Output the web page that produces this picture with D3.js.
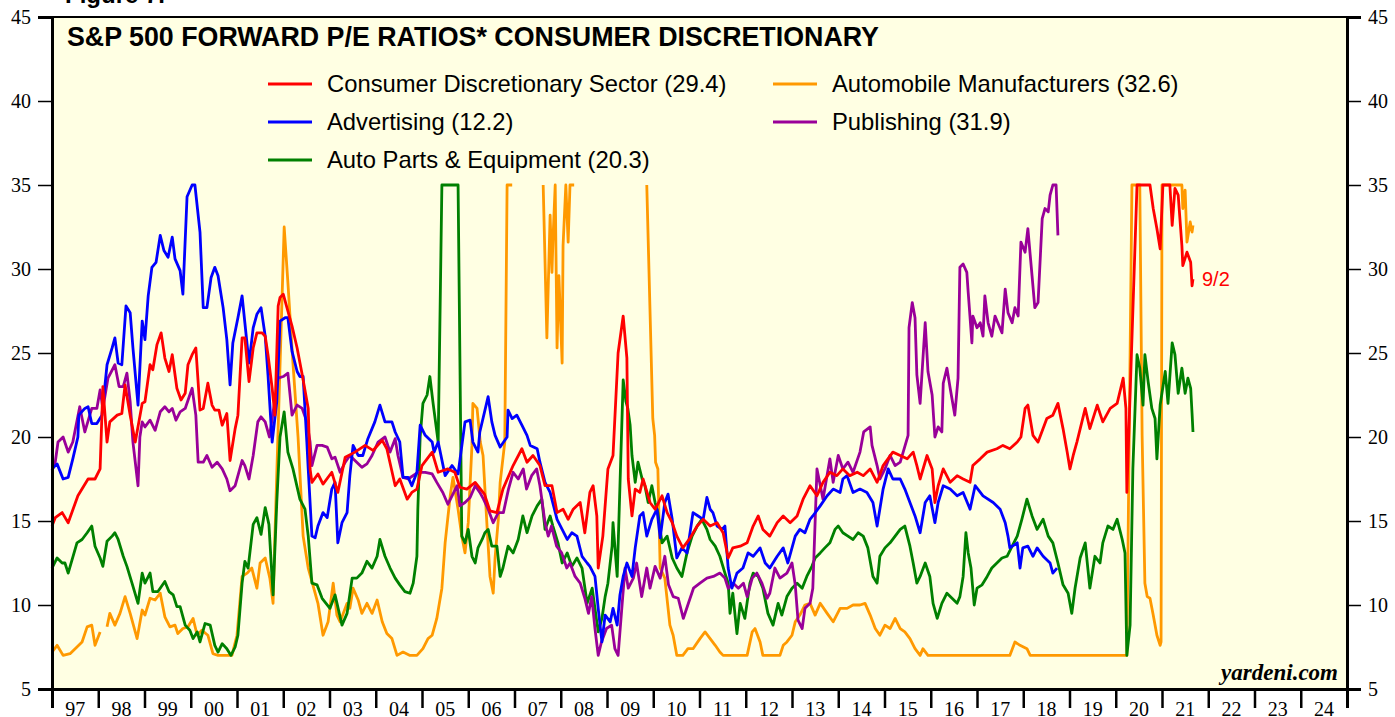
<!DOCTYPE html>
<html>
<head>
<meta charset="utf-8">
<script src="https://cdn.jsdelivr.net/npm/d3@7"></script>
<style>
  body { margin: 0; background: #fff; }
  svg { display: block; }
</style>
</head>
<body>
<div id="chart"></div>
<script>
// values: [fractional year, forward P/E]; null = gap
const consumerDisc = [
  [1997.00,14.7],[1997.07,15.2],[1997.22,15.5],[1997.35,14.9],[1997.56,16.5],[1997.78,17.5],[1997.93,17.5],
  [1998.04,18.1],[1998.10,23.0],[1998.19,19.7],[1998.25,20.9],[1998.41,21.3],[1998.51,21.4],[1998.58,23.1],
  [1998.69,21.3],[1998.80,19.7],[1998.95,22.0],[1999.01,22.1],[1999.12,24.3],[1999.18,24.0],[1999.27,25.5],
  [1999.36,26.2],[1999.44,24.7],[1999.53,23.9],[1999.60,24.9],[1999.70,22.9],[1999.79,22.2],[1999.88,22.6],
  [1999.94,24.3],[2000.03,24.9],[2000.11,25.3],[2000.20,21.6],[2000.27,21.7],[2000.37,23.2],[2000.46,21.9],
  [2000.52,21.6],[2000.61,21.6],[2000.68,20.7],[2000.78,21.4],[2000.85,18.6],[2000.96,20.5],[2001.02,21.3],
  [2001.11,25.9],[2001.17,25.9],[2001.26,23.3],[2001.35,25.3],[2001.43,26.2],[2001.54,26.2],[2001.61,26.0],
  [2001.67,24.9],[2001.76,22.9],[2001.82,21.3],[2001.89,27.8],[2001.93,28.3],[2002.00,28.5],[2002.08,27.7],
  [2002.19,26.6],[2002.30,25.3],[2002.41,23.7],[2002.54,21.7],[2002.58,18.1],[2002.62,17.3],[2002.75,17.8],
  [2002.86,17.2],[2003.05,17.9],[2003.18,16.7],[2003.34,18.8],[2003.55,19.1],[2003.77,19.5],[2003.94,19.2],
  [2004.14,19.8],[2004.24,19.3],[2004.42,17.1],[2004.52,17.5],[2004.68,16.3],[2004.78,16.7],[2004.89,16.9],
  [2005.00,18.3],[2005.22,19.1],[2005.35,17.9],[2005.56,18.1],[2005.71,17.9],[2005.82,17.0],[2005.97,16.9],
  [2006.15,17.3],[2006.35,16.6],[2006.47,15.6],[2006.62,15.5],[2006.75,16.9],[2006.97,18.3],[2007.16,19.3],
  [2007.27,18.5],[2007.40,18.9],[2007.55,18.3],[2007.66,17.1],[2007.81,17.1],[2007.92,15.5],[2008.05,15.7],
  [2008.16,15.1],[2008.27,15.7],[2008.42,16.1],[2008.52,14.3],[2008.63,16.7],[2008.70,17.1],[2008.78,15.3],
  [2008.81,12.2],[2008.91,14.1],[2009.02,18.1],[2009.13,18.9],[2009.24,25.0],[2009.35,27.2],[2009.43,24.7],
  [2009.46,17.5],[2009.54,15.3],[2009.61,16.9],[2009.71,16.7],[2009.78,17.5],[2009.93,16.1],[2010.04,15.7],
  [2010.19,16.5],[2010.30,15.5],[2010.41,14.9],[2010.51,14.1],[2010.64,13.4],[2010.80,14.0],[2010.95,14.7],
  [2011.08,15.1],[2011.23,14.7],[2011.38,14.9],[2011.51,14.3],[2011.62,12.8],[2011.72,13.4],[2011.88,13.5],
  [2012.03,13.7],[2012.16,14.7],[2012.27,15.3],[2012.37,14.5],[2012.52,14.1],[2012.68,14.9],[2012.81,15.3],
  [2012.96,14.9],[2013.11,15.3],[2013.24,16.3],[2013.39,17.1],[2013.54,16.5],[2013.67,17.3],[2013.82,17.9],
  [2013.97,17.7],[2014.10,18.1],[2014.25,17.7],[2014.41,17.9],[2014.54,17.7],[2014.69,18.1],[2014.84,17.3],
  [2014.97,18.3],[2015.18,19.1],[2015.34,18.9],[2015.49,18.7],[2015.62,19.1],[2015.70,18.3],[2015.77,17.5],
  [2015.92,18.9],[2016.03,18.1],[2016.09,16.1],[2016.16,17.1],[2016.27,18.1],[2016.42,17.3],[2016.57,17.7],
  [2016.70,17.5],[2016.85,17.3],[2016.91,18.3],[2017.07,18.7],[2017.22,19.1],[2017.43,19.3],[2017.56,19.5],
  [2017.71,19.3],[2017.87,19.7],[2017.95,20.0],[2018.04,21.7],[2018.10,21.9],[2018.21,20.1],[2018.32,19.7],
  [2018.51,21.1],[2018.64,21.3],[2018.75,22.0],[2018.86,20.5],[2018.95,19.1],[2019.01,18.1],[2019.08,18.9],
  [2019.16,19.7],[2019.34,21.7],[2019.44,20.5],[2019.60,21.9],[2019.72,20.9],[2019.88,21.7],[2020.03,22.0],
  [2020.16,23.5],[2020.22,21.7],[2020.24,16.7],[2020.46,35.0],[2020.74,35.0],[2020.81,33.6],[2020.89,32.4],
  [2020.96,31.2],[2021.02,35.0],[2021.17,35.0],[2021.22,32.6],[2021.28,34.8],[2021.35,34.4],[2021.43,31.4],
  [2021.45,30.2],[2021.54,31.0],[2021.62,30.4],[2021.65,29.0],[2021.67,29.4]
];

const advertising = [
  [1997.00,18.1],[1997.11,18.4],[1997.24,17.5],[1997.35,17.6],[1997.45,18.7],[1997.56,20.0],[1997.58,21.3],
  [1997.71,21.7],[1997.78,21.8],[1997.86,20.8],[1997.97,20.8],[1998.08,21.3],[1998.19,24.3],[1998.30,25.3],
  [1998.36,25.9],[1998.43,24.4],[1998.51,24.3],[1998.60,27.8],[1998.69,27.4],[1998.75,25.3],[1998.86,21.9],
  [1998.95,26.9],[1999.01,25.8],[1999.08,28.4],[1999.16,30.1],[1999.25,30.4],[1999.34,32.0],[1999.42,31.1],
  [1999.51,30.7],[1999.60,31.9],[1999.66,30.6],[1999.77,29.9],[1999.83,28.5],[1999.92,34.3],[2000.03,35.0],
  [2000.09,35.0],[2000.20,32.2],[2000.27,27.7],[2000.35,27.7],[2000.44,29.5],[2000.52,30.1],[2000.59,29.6],
  [2000.70,27.7],[2000.78,25.8],[2000.85,23.1],[2000.91,25.6],[2001.02,27.1],[2001.11,28.4],[2001.17,26.8],
  [2001.26,24.4],[2001.35,26.5],[2001.43,27.3],[2001.52,27.7],[2001.61,26.0],[2001.67,23.7],[2001.76,19.7],
  [2001.86,22.1],[2001.93,26.9],[2002.04,27.1],[2002.10,27.1],[2002.19,25.1],[2002.30,23.9],[2002.36,23.6],
  [2002.43,23.6],[2002.51,19.7],[2002.54,18.1],[2002.62,14.1],[2002.69,14.0],[2002.75,14.7],[2002.86,15.5],
  [2002.95,15.2],[2003.05,16.9],[2003.12,17.3],[2003.18,13.7],[2003.27,14.9],[2003.38,15.5],[2003.44,17.7],
  [2003.51,19.5],[2003.62,18.9],[2003.72,18.9],[2003.83,19.9],[2003.98,20.9],[2004.09,21.9],[2004.20,20.9],
  [2004.35,20.9],[2004.42,20.3],[2004.52,19.7],[2004.59,17.6],[2004.70,17.6],[2004.78,17.1],[2004.89,17.9],
  [2004.96,20.7],[2005.07,20.1],[2005.22,19.7],[2005.26,19.1],[2005.35,19.7],[2005.50,17.7],[2005.65,18.3],
  [2005.78,17.8],[2005.93,20.9],[2006.04,21.0],[2006.10,19.7],[2006.21,19.1],[2006.25,20.3],[2006.43,22.4],
  [2006.51,20.9],[2006.58,20.1],[2006.69,19.4],[2006.84,20.0],[2006.86,21.6],[2006.95,21.1],[2007.05,21.3],
  [2007.16,20.7],[2007.27,20.1],[2007.34,19.5],[2007.49,19.3],[2007.55,18.5],[2007.66,17.3],[2007.77,16.7],
  [2007.92,15.1],[2008.03,14.5],[2008.14,13.9],[2008.24,14.3],[2008.35,14.1],[2008.46,12.9],[2008.57,12.5],
  [2008.63,12.3],[2008.74,11.7],[2008.81,9.8],[2008.89,7.8],[2008.96,9.4],[2009.07,9.0],[2009.13,9.8],
  [2009.22,8.8],[2009.28,10.6],[2009.35,11.7],[2009.43,12.5],[2009.54,11.7],[2009.61,13.4],[2009.71,15.3],
  [2009.78,15.5],[2009.86,14.1],[2009.97,15.1],[2010.08,15.7],[2010.15,14.0],[2010.25,16.1],[2010.32,16.6],
  [2010.41,15.1],[2010.51,12.8],[2010.62,13.4],[2010.73,13.1],[2010.86,15.5],[2010.97,15.3],[2011.08,15.1],
  [2011.16,16.4],[2011.23,15.7],[2011.29,15.5],[2011.38,14.7],[2011.49,14.5],[2011.55,14.7],[2011.62,12.2],
  [2011.70,11.0],[2011.81,11.9],[2011.94,12.2],[2012.05,13.1],[2012.16,12.9],[2012.31,13.4],[2012.42,12.5],
  [2012.52,12.2],[2012.68,12.9],[2012.81,13.4],[2012.91,12.5],[2013.07,14.1],[2013.17,14.5],[2013.28,14.3],
  [2013.39,15.1],[2013.45,15.3],[2013.61,15.9],[2013.76,16.5],[2013.89,16.9],[2014.04,16.7],[2014.10,17.5],
  [2014.19,17.7],[2014.32,16.7],[2014.47,16.9],[2014.62,16.7],[2014.75,16.1],[2014.84,14.7],[2014.97,16.9],
  [2015.08,18.1],[2015.18,17.5],[2015.34,17.5],[2015.44,16.9],[2015.55,16.1],[2015.66,15.3],[2015.77,14.3],
  [2015.88,16.1],[2015.98,16.5],[2016.09,14.9],[2016.16,16.1],[2016.27,17.1],[2016.42,16.9],[2016.57,16.5],
  [2016.70,16.7],[2016.85,15.7],[2016.96,17.1],[2017.13,16.5],[2017.35,16.1],[2017.50,15.7],[2017.61,14.9],
  [2017.67,14.1],[2017.71,13.4],[2017.87,13.7],[2017.93,12.2],[2017.99,13.4],[2018.10,13.5],[2018.21,12.9],
  [2018.30,13.4],[2018.43,12.9],[2018.58,12.5],[2018.64,11.9],[2018.73,12.2]
];

const autoParts = [
  [1997.00,12.2],[1997.11,12.8],[1997.22,12.5],[1997.28,12.5],[1997.35,11.9],[1997.54,13.7],[1997.65,13.9],
  [1997.76,14.3],[1997.86,14.7],[1997.93,13.5],[1998.04,12.8],[1998.10,12.3],[1998.19,13.8],[1998.30,14.1],
  [1998.36,14.3],[1998.43,13.9],[1998.54,12.9],[1998.62,12.3],[1998.73,11.3],[1998.86,10.1],[1998.95,11.9],
  [1999.01,11.3],[1999.12,11.9],[1999.18,10.8],[1999.29,10.8],[1999.44,11.4],[1999.53,10.8],[1999.62,10.6],
  [1999.70,9.9],[1999.77,9.9],[1999.88,8.8],[1999.98,8.5],[2000.05,8.0],[2000.14,8.4],[2000.20,7.8],
  [2000.31,8.9],[2000.42,8.8],[2000.52,7.6],[2000.59,7.2],[2000.68,7.7],[2000.78,7.4],[2000.87,7.0],
  [2000.96,7.5],[2001.02,8.2],[2001.11,11.3],[2001.17,12.6],[2001.24,12.2],[2001.35,14.8],[2001.43,15.2],
  [2001.52,14.2],[2001.61,15.8],[2001.69,14.8],[2001.78,10.6],[2001.86,16.1],[2001.93,20.0],[2002.02,21.5],
  [2002.10,19.1],[2002.21,18.1],[2002.36,16.3],[2002.47,15.7],[2002.54,14.1],[2002.62,11.3],[2002.73,11.2],
  [2002.84,10.4],[2003.01,9.8],[2003.12,10.6],[2003.27,8.8],[2003.38,9.5],[2003.49,11.6],[2003.59,11.6],
  [2003.70,11.9],[2003.81,12.6],[2003.92,12.2],[2004.03,12.9],[2004.09,13.9],[2004.20,12.9],[2004.31,12.2],
  [2004.42,11.6],[2004.52,11.2],[2004.63,10.8],[2004.74,10.7],[2004.81,11.3],[2004.89,12.9],[2004.91,15.7],
  [2004.96,20.0],[2005.02,22.0],[2005.11,22.5],[2005.17,23.6],[2005.24,22.0],[2005.35,19.7],[2005.43,35.0],
  [2005.78,35.0],[2005.86,14.1],[2005.93,13.7],[2006.00,14.5],[2006.08,12.9],[2006.15,12.5],[2006.21,13.4],
  [2006.30,13.9],[2006.36,14.3],[2006.43,14.5],[2006.51,13.5],[2006.62,13.5],[2006.69,11.7],[2006.75,12.2],
  [2006.86,13.5],[2006.97,13.1],[2007.08,13.9],[2007.18,15.3],[2007.27,14.3],[2007.38,15.3],[2007.49,15.9],
  [2007.59,16.3],[2007.66,14.5],[2007.77,15.3],[2007.83,14.7],[2007.94,13.7],[2008.03,12.5],[2008.14,13.1],
  [2008.24,12.3],[2008.35,12.8],[2008.46,12.2],[2008.57,10.1],[2008.68,11.0],[2008.74,9.8],[2008.81,8.4],
  [2008.89,9.2],[2008.96,10.5],[2009.02,11.3],[2009.11,13.5],[2009.13,14.9],[2009.22,11.7],[2009.28,17.1],
  [2009.35,23.4],[2009.41,22.1],[2009.45,21.7],[2009.50,20.7],[2009.54,18.9],[2009.61,17.3],[2009.67,18.5],
  [2009.76,17.5],[2009.82,17.1],[2009.89,16.1],[2009.97,17.1],[2010.04,16.1],[2010.10,15.5],[2010.19,13.7],
  [2010.30,14.1],[2010.41,12.8],[2010.51,12.2],[2010.62,11.7],[2010.73,13.1],[2010.84,14.1],[2010.95,14.7],
  [2011.05,15.1],[2011.16,14.5],[2011.23,13.9],[2011.34,13.5],[2011.44,12.9],[2011.55,11.9],[2011.62,11.3],
  [2011.66,9.5],[2011.72,10.7],[2011.81,8.3],[2011.88,10.1],[2011.98,9.2],[2012.09,11.3],[2012.16,11.9],
  [2012.27,11.7],[2012.37,11.0],[2012.48,9.5],[2012.59,8.8],[2012.70,10.1],[2012.78,9.4],[2012.89,10.5],
  [2013.00,11.0],[2013.11,11.3],[2013.22,11.0],[2013.32,11.7],[2013.43,12.3],[2013.50,12.8],[2013.61,13.1],
  [2013.71,13.4],[2013.82,13.7],[2013.93,14.5],[2014.00,14.7],[2014.10,14.3],[2014.21,14.1],[2014.32,13.9],
  [2014.43,14.3],[2014.54,14.1],[2014.64,13.4],[2014.75,11.7],[2014.84,11.3],[2014.90,12.9],[2015.01,13.4],
  [2015.12,13.7],[2015.23,14.1],[2015.34,14.5],[2015.44,14.7],[2015.55,13.5],[2015.62,12.5],[2015.70,11.3],
  [2015.77,11.7],[2015.88,12.5],[2015.98,11.7],[2016.05,10.1],[2016.14,9.2],[2016.24,10.1],[2016.35,10.7],
  [2016.46,10.4],[2016.57,10.1],[2016.63,10.5],[2016.70,11.7],[2016.76,14.3],[2016.81,13.1],[2016.87,12.2],
  [2016.94,10.0],[2017.00,11.0],[2017.11,11.2],[2017.22,11.7],[2017.32,12.2],[2017.43,12.5],[2017.54,12.8],
  [2017.65,12.9],[2017.76,13.5],[2017.87,14.1],[2017.97,15.1],[2018.08,16.3],[2018.19,15.3],[2018.30,14.5],
  [2018.43,15.1],[2018.54,14.1],[2018.64,13.7],[2018.75,12.5],[2018.86,11.2],[2018.97,10.7],[2019.05,9.5],
  [2019.12,11.0],[2019.23,12.8],[2019.34,13.7],[2019.44,11.0],[2019.55,12.9],[2019.66,12.5],[2019.72,13.7],
  [2019.83,14.7],[2019.94,14.5],[2020.03,15.1],[2020.14,13.9],[2020.20,13.1],[2020.24,7.0],[2020.31,8.8],
  [2020.37,18.1],[2020.46,24.9],[2020.52,24.1],[2020.59,21.9],[2020.63,24.9],[2020.70,23.3],[2020.78,21.7],
  [2020.85,21.1],[2020.89,18.7],[2020.96,21.9],[2021.07,23.9],[2021.13,22.0],[2021.22,25.6],[2021.28,24.9],
  [2021.35,22.6],[2021.43,24.1],[2021.50,22.6],[2021.56,23.5],[2021.62,22.9],[2021.65,21.4],[2021.67,20.3]
];

const autoMakers = [
  [1997.00,7.2],[1997.11,7.6],[1997.24,7.0],[1997.39,7.1],[1997.54,7.5],[1997.65,7.8],[1997.76,8.7],
  [1997.86,8.8],[1997.93,7.6],[1998.04,8.4],[1998.10,null],[1998.19,8.7],[1998.25,9.5],[1998.36,8.8],
  [1998.47,9.5],[1998.58,10.5],[1998.69,9.5],[1998.84,8.0],[1998.95,9.7],[1999.01,9.4],[1999.12,10.4],
  [1999.23,10.3],[1999.34,10.7],[1999.44,9.3],[1999.55,8.7],[1999.66,8.8],[1999.72,8.3],[1999.83,8.6],
  [1999.94,8.7],[2000.05,9.2],[2000.14,8.2],[2000.24,8.5],[2000.37,8.2],[2000.48,7.1],[2000.59,7.0],
  [2000.89,7.0],[2001.00,8.2],[2001.11,11.7],[2001.22,11.9],[2001.32,12.2],[2001.43,11.0],[2001.50,12.5],
  [2001.61,12.8],[2001.71,11.6],[2001.78,10.1],[2001.82,14.1],[2002.02,32.5],[2002.10,29.2],[2002.21,24.4],
  [2002.32,20.0],[2002.43,14.1],[2002.54,12.2],[2002.64,11.2],[2002.75,10.1],[2002.86,8.2],[2002.97,9.0],
  [2003.08,11.3],[2003.16,9.4],[2003.23,9.0],[2003.38,10.1],[2003.44,9.8],[2003.51,11.0],[2003.62,10.3],
  [2003.70,9.5],[2003.81,10.1],[2003.92,9.5],[2004.03,10.3],[2004.14,9.0],[2004.24,8.3],[2004.35,8.0],
  [2004.46,7.0],[2004.59,7.2],[2004.74,7.0],[2004.89,7.0],[2005.02,7.4],[2005.13,8.0],[2005.22,8.2],
  [2005.32,9.2],[2005.43,11.0],[2005.50,13.7],[2005.61,16.5],[2005.67,17.6],[2005.78,15.7],[2005.86,14.1],
  [2005.93,13.1],[2006.00,14.9],[2006.08,19.5],[2006.10,22.0],[2006.19,21.7],[2006.26,19.7],[2006.32,18.9],
  [2006.41,14.5],[2006.47,11.7],[2006.54,10.7],[2006.58,12.8],[2006.65,15.1],[2006.69,17.3],[2006.79,19.7],
  [2006.84,35.0],[2006.95,35.0],[2007.30,null],[2007.62,35.0],[2007.70,25.9],[2007.77,33.2],[2007.81,29.8],
  [2007.83,31.6],[2007.88,35.0],[2007.92,25.3],[2007.96,29.6],[2008.03,24.4],[2008.05,31.4],[2008.11,35.0],
  [2008.16,31.6],[2008.20,35.0],[2008.29,35.0],[2009.00,null],[2009.86,35.0],[2009.99,21.1],[2010.03,20.1],
  [2010.05,18.5],[2010.10,18.1],[2010.15,12.2],[2010.25,11.6],[2010.36,8.8],[2010.43,8.2],[2010.51,7.0],
  [2010.64,7.0],[2010.75,7.4],[2010.86,7.4],[2011.01,8.0],[2011.12,8.4],[2011.23,8.0],[2011.34,7.6],
  [2011.44,7.2],[2011.51,7.0],[2012.03,7.0],[2012.14,8.4],[2012.20,8.6],[2012.31,7.8],[2012.37,7.0],
  [2012.74,7.0],[2012.81,7.6],[2012.89,7.8],[2013.00,8.2],[2013.07,9.0],[2013.17,9.4],[2013.28,10.0],
  [2013.39,10.1],[2013.50,9.4],[2013.61,10.1],[2013.76,9.5],[2013.89,9.0],[2014.04,9.8],[2014.19,9.8],
  [2014.32,10.0],[2014.47,10.0],[2014.58,10.1],[2014.69,9.4],[2014.80,8.6],[2014.90,8.2],[2015.01,8.8],
  [2015.12,8.6],[2015.23,9.2],[2015.34,8.6],[2015.44,8.4],[2015.55,8.0],[2015.66,7.4],[2015.77,7.0],
  [2015.83,7.4],[2015.94,7.0],[2017.71,7.0],[2017.82,7.8],[2017.93,7.6],[2018.08,7.4],[2018.15,7.0],
  [2020.24,7.0],[2020.35,35.0],[2020.52,35.0],[2020.57,20.1],[2020.63,11.3],[2020.68,10.5],[2020.74,10.4],
  [2020.81,9.4],[2020.89,8.2],[2020.96,7.6],[2020.98,7.8],[2021.00,35.0],[2021.43,35.0],[2021.45,33.6],
  [2021.50,34.7],[2021.54,31.6],[2021.61,32.8],[2021.65,32.2],[2021.67,32.6]
];

const publishing = [
  [1997.00,18.0],[1997.07,18.5],[1997.13,19.7],[1997.24,20.0],[1997.35,19.1],[1997.45,19.7],[1997.60,21.8],
  [1997.71,20.3],[1997.86,21.7],[1997.97,21.7],[1998.04,22.8],[1998.10,21.7],[1998.21,23.5],[1998.36,24.3],
  [1998.45,23.0],[1998.54,23.0],[1998.62,23.8],[1998.69,22.1],[1998.75,19.7],[1998.86,17.1],[1998.90,20.0],
  [1998.95,20.9],[1999.01,20.6],[1999.12,21.0],[1999.23,20.4],[1999.34,21.5],[1999.44,21.8],[1999.53,21.5],
  [1999.60,21.7],[1999.68,21.0],[1999.77,21.5],[1999.88,21.7],[2000.03,22.9],[2000.11,21.3],[2000.16,18.5],
  [2000.27,18.5],[2000.35,18.9],[2000.46,18.2],[2000.57,18.5],[2000.68,18.1],[2000.78,17.5],[2000.85,16.8],
  [2000.96,17.1],[2001.11,18.6],[2001.17,18.3],[2001.26,17.5],[2001.35,18.9],[2001.45,20.9],[2001.52,21.2],
  [2001.61,20.9],[2001.70,20.0],[2001.89,23.5],[2002.00,23.6],[2002.10,23.8],[2002.19,21.3],[2002.30,21.9],
  [2002.41,21.7],[2002.51,20.9],[2002.58,19.7],[2002.62,18.3],[2002.73,19.5],[2002.84,19.5],[2002.95,19.4],
  [2003.05,18.7],[2003.12,18.8],[2003.23,17.9],[2003.34,18.5],[2003.44,18.9],[2003.55,18.6],[2003.70,18.2],
  [2003.81,18.4],[2003.92,18.9],[2004.05,19.7],[2004.20,20.0],[2004.31,19.1],[2004.42,19.9],[2004.48,18.9],
  [2004.59,17.6],[2004.70,17.5],[2004.91,17.9],[2005.07,17.9],[2005.22,17.8],[2005.32,17.3],[2005.45,16.7],
  [2005.56,16.0],[2005.65,16.5],[2005.76,17.1],[2005.82,15.9],[2005.93,16.1],[2006.04,16.4],[2006.15,17.1],
  [2006.25,16.7],[2006.33,16.3],[2006.43,15.7],[2006.54,14.9],[2006.65,15.5],[2006.76,15.5],[2006.87,16.9],
  [2006.97,17.9],[2007.08,17.5],[2007.19,18.1],[2007.26,16.9],[2007.37,17.7],[2007.48,18.1],[2007.55,17.1],
  [2007.66,14.9],[2007.73,14.1],[2007.80,14.7],[2007.91,13.5],[2008.02,13.1],[2008.13,12.2],[2008.20,12.5],
  [2008.31,11.7],[2008.42,11.3],[2008.52,10.4],[2008.60,9.5],[2008.67,10.5],[2008.74,8.6],[2008.81,7.0],
  [2008.88,7.8],[2008.99,8.6],[2009.10,8.8],[2009.17,7.4],[2009.24,7.0],[2009.32,9.8],[2009.39,12.2],
  [2009.46,11.0],[2009.57,11.6],[2009.64,12.5],[2009.75,10.5],[2009.86,12.2],[2009.93,11.0],[2010.04,12.3],
  [2010.15,11.6],[2010.25,12.9],[2010.33,11.2],[2010.43,10.5],[2010.54,10.4],[2010.65,9.2],[2010.76,10.1],
  [2010.87,11.0],[2011.01,11.3],[2011.16,11.6],[2011.30,11.7],[2011.44,11.9],[2011.55,11.6],[2011.62,11.0],
  [2011.73,11.3],[2011.84,11.0],[2011.95,11.3],[2012.03,10.5],[2012.14,11.6],[2012.24,11.9],[2012.35,11.3],
  [2012.46,10.4],[2012.52,10.7],[2012.63,12.2],[2012.74,11.6],[2012.89,11.9],[2013.00,12.5],[2013.07,11.2],
  [2013.13,9.1],[2013.22,8.6],[2013.28,9.8],[2013.39,10.1],[2013.45,11.0],[2013.54,18.1],[2013.67,16.3],
  [2013.82,18.7],[2013.89,17.3],[2014.00,18.9],[2014.10,18.1],[2014.21,18.5],[2014.32,17.9],[2014.47,19.1],
  [2014.55,20.3],[2014.69,20.6],[2014.73,19.5],[2014.84,18.3],[2014.90,17.5],[2015.01,18.1],[2015.12,18.9],
  [2015.23,18.3],[2015.34,18.5],[2015.51,20.1],[2015.53,26.5],[2015.60,28.0],[2015.66,27.1],[2015.70,23.7],
  [2015.77,22.0],[2015.88,26.8],[2015.94,23.9],[2016.03,22.5],[2016.09,20.0],[2016.16,20.6],[2016.24,20.3],
  [2016.27,23.2],[2016.35,24.1],[2016.42,22.9],[2016.52,21.3],[2016.59,23.5],[2016.63,30.1],[2016.70,30.3],
  [2016.78,29.8],[2016.81,28.6],[2016.89,25.6],[2016.91,27.2],[2017.00,26.5],[2017.07,26.8],[2017.13,26.0],
  [2017.17,28.4],[2017.24,26.8],[2017.32,26.0],[2017.39,27.2],[2017.45,26.8],[2017.54,26.2],[2017.61,28.8],
  [2017.67,27.4],[2017.76,26.8],[2017.82,27.7],[2017.89,27.2],[2017.95,31.6],[2018.04,31.0],[2018.10,32.4],
  [2018.19,29.6],[2018.25,27.7],[2018.32,28.0],[2018.41,33.0],[2018.47,33.6],[2018.54,33.4],[2018.58,34.4],
  [2018.64,35.0],[2018.71,35.0],[2018.75,32.0]
];

const yTicks = [5, 10, 15, 20, 25, 30, 35, 40, 45];
const yearLabels = ["97","98","99","00","01","02","03","04","05","06","07","08","09","10",
                    "11","12","13","14","15","16","17","18","19","20","21","22","23","24"];

const series = [
  { name: "Automobile Manufacturers (32.6)", data: autoMakers, color: "#ff9900" },
  { name: "Auto Parts & Equipment (20.3)", data: autoParts, color: "#008000" },
  { name: "Publishing (31.9)", data: publishing, color: "#990099" },
  { name: "Advertising (12.2)", data: advertising, color: "#0000ff" },
  { name: "Consumer Discretionary Sector (29.4)", data: consumerDisc, color: "#ff0000" }
];

const width = 1395;
const height = 717;
const m = { left: 52, right: 48, top: 17, bottom: 28 };

const svg = d3.select("#chart")
    .append("svg")
    .attr("width", width)
    .attr("height", height);

// scales
const x = d3.scaleLinear()
    .domain([1997, 2025])
    .range([m.left, width - m.right]);

const y = d3.scaleLinear()
    .domain([5, 45])
    .range([height - m.bottom, m.top]);

// plot background
svg.append("rect")
    .attr("x", m.left)
    .attr("y", m.top)
    .attr("width", x(2025) - m.left)
    .attr("height", y(5) - m.top)
    .attr("fill", "#ffffe3");

// lines
const line = d3.line()
    .defined(d => d[1] != null)
    .x(d => x(d[0]))
    .y(d => y(d[1]));

svg.selectAll("path.series")
    .data(series)
    .enter()
    .append("path")
    .attr("class", "series")
    .attr("d", d => line(d.data))
    .attr("fill", "none")
    .attr("stroke", d => d.color)
    .attr("stroke-width", 2.8)
    .attr("stroke-linejoin", "round");

// frame
svg.append("line")
    .attr("x1", m.left).attr("x2", x(2025))
    .attr("y1", m.top).attr("y2", m.top)
    .attr("stroke", "#000").attr("stroke-width", 2);

// y axes, both sides
const yLeft = svg.append("g")
    .attr("transform", `translate(${m.left},0)`)
    .call(d3.axisLeft(y).tickValues(yTicks).tickSize(14).tickPadding(7));
const yRight = svg.append("g")
    .attr("transform", `translate(${x(2025)},0)`)
    .call(d3.axisRight(y).tickValues(yTicks).tickSize(14).tickPadding(7));

[yLeft, yRight].forEach(g => {
    g.select(".domain").attr("stroke-width", 3);
    g.selectAll(".tick line").attr("stroke-width", 1.5);
    g.selectAll("text")
        .attr("font-family", "'Liberation Serif', 'Times New Roman', serif")
        .attr("font-size", 20)
        .attr("fill", "#000");
});

// x axis: ticks at year starts, labels between
const xAxis = svg.append("g")
    .attr("transform", `translate(0,${y(5)})`)
    .call(d3.axisBottom(x).tickValues(d3.range(1997, 2026)).tickSize(19).tickFormat(""));
xAxis.select(".domain").attr("stroke-width", 3);
xAxis.selectAll(".tick line").attr("stroke-width", 2.5);

svg.selectAll("text.year")
    .data(yearLabels)
    .enter()
    .append("text")
    .attr("class", "year")
    .attr("x", (d, i) => x(1997.5 + i))
    .attr("y", 716)
    .attr("text-anchor", "middle")
    .attr("font-family", "'Liberation Serif', 'Times New Roman', serif")
    .attr("font-size", 20)
    .text(d => d);

// titles
svg.append("text")
    .attr("x", 65).attr("y", 3)
    .attr("font-family", "'Liberation Sans', Arial, sans-serif")
    .attr("font-weight", "bold")
    .attr("font-size", 24)
    .text("Figure 7.");

svg.append("text")
    .attr("x", 67).attr("y", 46)
    .attr("font-family", "'Liberation Sans', Arial, sans-serif")
    .attr("font-weight", "bold")
    .attr("font-size", 26.8)
    .text("S&P 500 FORWARD P/E RATIOS* CONSUMER DISCRETIONARY");

// legend
const legendItems = [
  { s: series[4], lx: 268, ly: 84 },
  { s: series[3], lx: 268, ly: 122 },
  { s: series[1], lx: 268, ly: 160 },
  { s: series[0], lx: 773, ly: 84 },
  { s: series[2], lx: 773, ly: 122 }
];

const legend = svg.selectAll("g.legend")
    .data(legendItems)
    .enter()
    .append("g")
    .attr("class", "legend")
    .attr("transform", d => `translate(${d.lx},${d.ly})`);

legend.append("line")
    .attr("x1", 0).attr("x2", 44)
    .attr("stroke", d => d.s.color)
    .attr("stroke-width", 2.8);

legend.append("text")
    .attr("x", 59).attr("y", 8)
    .attr("font-family", "'Liberation Sans', Arial, sans-serif")
    .attr("font-size", 23.8)
    .text(d => d.s.name);

// end date label
const last = consumerDisc[consumerDisc.length - 1];
svg.append("text")
    .attr("x", x(last[0]) + 9)
    .attr("y", 286)
    .attr("fill", "#ff0000")
    .attr("font-family", "'Liberation Sans', Arial, sans-serif")
    .attr("font-size", 20)
    .text("9/2");

svg.append("text")
    .attr("x", 1338).attr("y", 680)
    .attr("text-anchor", "end")
    .attr("font-family", "'Liberation Serif', 'Times New Roman', serif")
    .attr("font-weight", "bold")
    .attr("font-style", "italic")
    .attr("font-size", 23)
    .text("yardeni.com");
</script>
</body>
</html>
